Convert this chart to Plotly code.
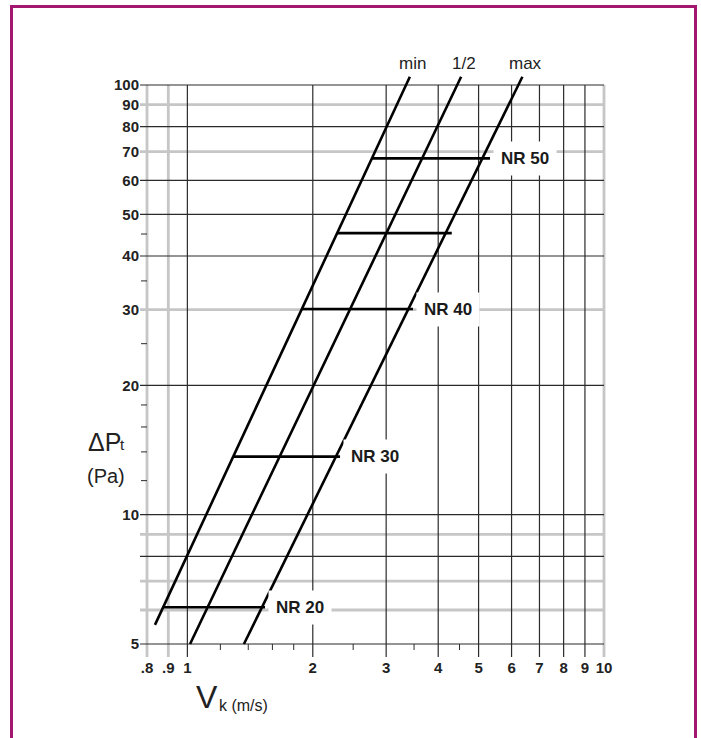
import math
import plotly.graph_objects as go

# ---------------- data ----------------
y_tick_vals = [5, 10, 20, 30, 40, 50, 60, 70, 80, 90, 100]
y_tick_text = ["5", "10", "20", "30", "40", "50", "60", "70", "80", "90", "100"]
x_tick_vals = [0.8, 0.9, 1, 2, 3, 4, 5, 6, 7, 8, 9, 10]
x_tick_text = [".8", ".9", "1", "2", "3", "4", "5", "6", "7", "8", "9", "10"]

grid_x_dark = [1, 2, 3, 4, 5, 6, 7, 8, 9]
grid_x_light = [0.8, 0.9, 10]
grid_y_dark = [5, 8, 10, 20, 40, 50, 60, 80, 100]
grid_y_light = [6, 7, 9, 30, 70, 90]
minor_x = [1.2, 1.4, 1.6, 1.8, 2.5, 3.5, 4.5]
minor_y = [12, 14, 16, 18, 25, 35, 45]

curve_names = ["min", "1/2", "max"]
curve_v_start = [0.836, 1.015, 1.367]
curve_p_start = [5.54, 5.0, 5.0]
curve_v_end = [3.42, 4.54, 6.37]
curve_p_end = [104.5, 104.5, 104.5]

nr_labels = ["NR 20", "NR 30", "NR 40", "", "NR 50"]
nr_p = [6.09, 13.65, 30.1, 45.2, 67.5]
nr_v_start = [0.875, 1.289, 1.885, 2.289, 2.775]
nr_v_end = [1.536, 2.325, 3.479, 4.311, 5.326]

# ---------------- layout constants ----------------
W, H = 701, 738
ML, MR, MT, MB = 140, 81, 40, 81
X_RANGE = [-0.11371, 1.0384]
Y_RANGE = [0.66872, 2.10473]
X_PPD = (W - ML - MR) / (X_RANGE[1] - X_RANGE[0])
Y_PPD = (H - MT - MB) / (Y_RANGE[1] - Y_RANGE[0])
x_left = 10 ** X_RANGE[0]
y_bottom = 10 ** Y_RANGE[0]
x_grid_max = max(x_tick_vals)
x_grid_min = min(x_tick_vals)
y_grid_max = max(y_tick_vals)
y_grid_min = min(y_tick_vals)

FONT = "Liberation Sans, Arial, Helvetica, sans-serif"
DARK = "#2b2b2b"
LIGHT = "#c6c6c6"
BORDER = "#a3176f"


def segs_h(vals, x0, x1):
    xs, ys = [], []
    for v in vals:
        xs += [x0, x1, None]
        ys += [v, v, None]
    return xs, ys


def segs_v(vals, y0, y1):
    xs, ys = [], []
    for v in vals:
        xs += [v, v, None]
        ys += [y0, y1, None]
    return xs, ys


fig = go.Figure()

# light grid
hx, hy = segs_h(grid_y_light, x_left, x_grid_max)
vx, vy = segs_v(grid_x_light, y_bottom, y_grid_max)
fig.add_trace(go.Scatter(x=hx + vx, y=hy + vy, mode="lines",
                         line=dict(color=LIGHT, width=2.8), hoverinfo="skip"))
# dark grid
hx, hy = segs_h(grid_y_dark, x_left, x_grid_max)
vx, vy = segs_v(grid_x_dark, y_bottom, y_grid_max)
fig.add_trace(go.Scatter(x=hx + vx, y=hy + vy, mode="lines",
                         line=dict(color=DARK, width=1.2), hoverinfo="skip"))
# minor ticks
mx, my = segs_v(minor_x, y_grid_min, y_grid_min * 10 ** (-6 / Y_PPD))
nx, ny = segs_h(minor_y, x_grid_min * 10 ** (-6 / X_PPD), x_grid_min)
fig.add_trace(go.Scatter(x=mx + nx, y=my + ny, mode="lines",
                         line=dict(color=DARK, width=1), hoverinfo="skip"))
# NR segments
sx, sy = [], []
for p, a, b in zip(nr_p, nr_v_start, nr_v_end):
    sx += [a, b, None]
    sy += [p, p, None]
fig.add_trace(go.Scatter(x=sx, y=sy, mode="lines",
                         line=dict(color="black", width=2.6), hoverinfo="skip"))
# diagonal curves
for name, a, pa, b, pb in zip(curve_names, curve_v_start, curve_p_start,
                              curve_v_end, curve_p_end):
    fig.add_trace(go.Scatter(x=[a, b], y=[pa, pb], mode="lines", name=name,
                             line=dict(color="black", width=2.6), hoverinfo="skip"))

annotations = []
for lab, p, b in zip(nr_labels, nr_p, nr_v_end):
    if not lab:
        continue
    annotations.append(dict(x=math.log10(b), y=math.log10(p), xref="x", yref="y",
                            text=lab, showarrow=False,
                            xanchor="left", yanchor="middle", xshift=3,
                            bgcolor="white", borderpad=7,
                            font=dict(family=FONT, size=17, color="#1a1a1a", weight="bold")))
for name, b, pb in zip(curve_names, curve_v_end, curve_p_end):
    annotations.append(dict(x=math.log10(b), y=math.log10(pb), xref="x", yref="y",
                            text=name, showarrow=False,
                            xanchor="center", yanchor="bottom", xshift=3, yshift=2,
                            font=dict(family=FONT, size=17, color="#222")))


def px_x(p):
    return (p - ML) / (W - ML - MR)


def px_y(p):
    return (H - MB - p) / (H - MT - MB)


annotations += [
    dict(x=px_x(86), y=px_y(442), xref="paper", yref="paper", text="ΔP",
         showarrow=False, xanchor="left", yanchor="middle",
         font=dict(family=FONT, size=25, color="#222")),
    dict(x=px_x(118), y=px_y(444), xref="paper", yref="paper", text="t",
         showarrow=False, xanchor="left", yanchor="middle",
         font=dict(family=FONT, size=15, color="#222")),
    dict(x=px_x(85), y=px_y(475.5), xref="paper", yref="paper", text="(Pa)",
         showarrow=False, xanchor="left", yanchor="middle",
         font=dict(family=FONT, size=20, color="#222")),
    dict(x=px_x(194), y=px_y(696.5), xref="paper", yref="paper", text="V",
         showarrow=False, xanchor="left", yanchor="middle",
         font=dict(family=FONT, size=32, color="#222")),
    dict(x=px_x(217), y=px_y(705), xref="paper", yref="paper", text="k (m/s)",
         showarrow=False, xanchor="left", yanchor="middle",
         font=dict(family=FONT, size=16, color="#222")),
]

fig.update_layout(
    width=W, height=H,
    margin=dict(l=ML, r=MR, t=MT, b=MB, pad=0),
    plot_bgcolor="white", paper_bgcolor="white",
    showlegend=False,
    annotations=annotations,
    shapes=[dict(type="rect", xref="paper", yref="paper",
                 x0=px_x(11.5), x1=px_x(695.5), y0=px_y(760), y1=px_y(6.5),
                 line=dict(color=BORDER, width=3), fillcolor="rgba(0,0,0,0)",
                 layer="above")],
    xaxis=dict(type="log", range=X_RANGE, tickmode="array", tickvals=x_tick_vals,
               ticktext=x_tick_text, showgrid=False, zeroline=False, showline=False,
               ticks="", tickfont=dict(family=FONT, size=15, color="#222", weight="bold"),
               fixedrange=True),
    yaxis=dict(type="log", range=Y_RANGE, tickmode="array", tickvals=y_tick_vals,
               ticktext=y_tick_text, showgrid=False, zeroline=False, showline=False,
               ticks="", tickfont=dict(family=FONT, size=15, color="#222", weight="bold"),
               fixedrange=True),
)

fig.write_html("out.html", config={"displayModeBar": False},
               post_script="document.body.style.margin='0';"
                           "document.body.style.overflow='hidden';")
